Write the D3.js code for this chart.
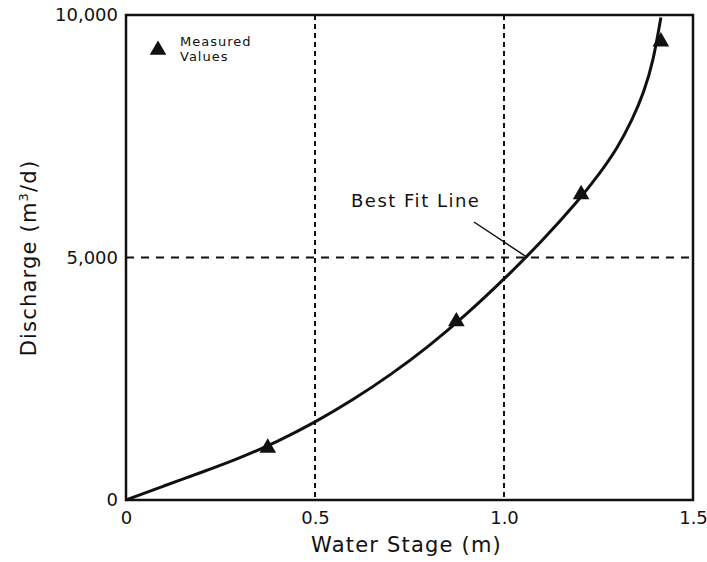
<!DOCTYPE html>
<html lang="en">
<head>
    <meta charset="UTF-8">
    <title>rating curve</title>
    <script src="https://cdn.jsdelivr.net/npm/d3@7"></script>
    <style>
        body{ margin:0; background:#fff; }
        text{ font-family:"DejaVu Sans", sans-serif; fill:#111; }
    </style>
</head>
<body>
</body>
<script type="text/javascript">

    // measured values (stage m, discharge m3/d)
    let measuredStage = [0.375, 0.874, 1.204, 1.415];
    let measuredQ = [1075, 3680, 6300, 9450];

    // best fit line
    let fitStage = [0, 0.1, 0.2, 0.3, 0.4, 0.5, 0.6, 0.7, 0.8, 0.9, 1.0, 1.1, 1.2, 1.25, 1.3, 1.34, 1.37, 1.395, 1.415];
    let fitQ = [0, 290, 570, 860, 1200, 1600, 2060, 2580, 3160, 3820, 4550, 5330, 6200, 6700, 7250, 7850, 8400, 9050, 9950];

    let xTicks = [0, 0.5, 1.0, 1.5];
    let yTicks = [0, 5000, 10000];
    let xGrid = [0.5, 1.0];
    let yGrid = [5000];

    let width = 707, height = 562;
    let mLeft = 126, mRight = 693, mTop = 15, mBottom = 500;

    let svg = d3.select("body")
        .append("svg")
        .attr("width", width)
        .attr("height", height);

    let x = d3.scaleLinear().domain([0, 1.5]).range([mLeft, mRight]);
    let y = d3.scaleLinear().domain([0, 10000]).range([mBottom, mTop]);

    // axes (labels only, frame drawn separately)
    let xAxis = d3.axisBottom(x).tickValues(xTicks).tickSize(0).tickPadding(11)
        .tickFormat(d => d === 0 ? "0" : d3.format(".1f")(d));
    let xg = svg.append("g").attr("transform", `translate(0,${mBottom})`);
    xAxis(xg);
    let yAxis = d3.axisLeft(y).tickValues(yTicks).tickSize(0).tickPadding(8)
        .tickFormat(d3.format(","));
    let yg = svg.append("g").attr("transform", `translate(${mLeft},0)`);
    yAxis(yg);
    svg.selectAll(".domain").remove();
    svg.selectAll(".tick text")
        .attr("font-family", "DejaVu Sans")
        .attr("font-size", 18)
        .attr("fill", "#111");

    // dashed grid
    svg.selectAll(".vgrid").data(xGrid).enter().append("line")
        .attr("x1", d => x(d)).attr("x2", d => x(d))
        .attr("y1", mTop).attr("y2", mBottom)
        .attr("stroke", "#111").attr("stroke-width", 2)
        .attr("stroke-dasharray", "5,4");
    svg.selectAll(".hgrid").data(yGrid).enter().append("line")
        .attr("x1", mLeft).attr("x2", mRight)
        .attr("y1", d => y(d)).attr("y2", d => y(d))
        .attr("stroke", "#111").attr("stroke-width", 2)
        .attr("stroke-dasharray", "8,7");

    // frame
    svg.append("rect")
        .attr("x", mLeft).attr("y", mTop)
        .attr("width", mRight - mLeft).attr("height", mBottom - mTop)
        .attr("fill", "none").attr("stroke", "#111").attr("stroke-width", 2.5);

    // best fit line
    let fit = fitStage.map((s, i) => ({s: s, q: fitQ[i]}));
    let line = d3.line()
        .x(d => x(d.s))
        .y(d => y(d.q))
        .curve(d3.curveBasis);
    svg.append("path")
        .datum(fit)
        .attr("fill", "none")
        .attr("stroke", "#111")
        .attr("stroke-width", 3)
        .attr("d", line);

    // measured points
    let tri = d3.symbol().type(d3.symbolTriangle).size(120);
    svg.selectAll(".pt").data(measuredStage).enter().append("path")
        .attr("transform", (d, i) => `translate(${x(d)},${y(measuredQ[i])})`)
        .attr("d", tri)
        .attr("fill", "#111");

    // legend
    svg.append("path")
        .attr("transform", "translate(158,50)")
        .attr("d", tri)
        .attr("fill", "#111");
    svg.append("text").attr("x", 180).attr("y", 46).attr("font-size", 13)
        .attr("letter-spacing", 1).text("Measured");
    svg.append("text").attr("x", 180).attr("y", 61).attr("font-size", 13)
        .attr("letter-spacing", 1).text("Values");

    // annotation
    svg.append("text").attr("x", 351).attr("y", 207).attr("font-size", 18)
        .attr("letter-spacing", 1.5).text("Best Fit Line");
    svg.append("line")
        .attr("x1", 474).attr("y1", 222)
        .attr("x2", x(1.062)).attr("y2", y(5000))
        .attr("stroke", "#111").attr("stroke-width", 1.5);

    // axis titles
    svg.append("text")
        .attr("x", (mLeft + mRight) / 2 - 3).attr("y", 552)
        .attr("text-anchor", "middle").attr("font-size", 21)
        .attr("letter-spacing", 1.2)
        .text("Water Stage (m)");
    let yt = svg.append("text")
        .attr("transform", "translate(36,258) rotate(-90)")
        .attr("text-anchor", "middle").attr("font-size", 21)
        .attr("letter-spacing", 1.2);
    yt.append("tspan").text("Discharge (m");
    yt.append("tspan").attr("dy", -8).attr("font-size", 13).text("3");
    yt.append("tspan").attr("dy", 8).text("/d)");

</script>
</html>
